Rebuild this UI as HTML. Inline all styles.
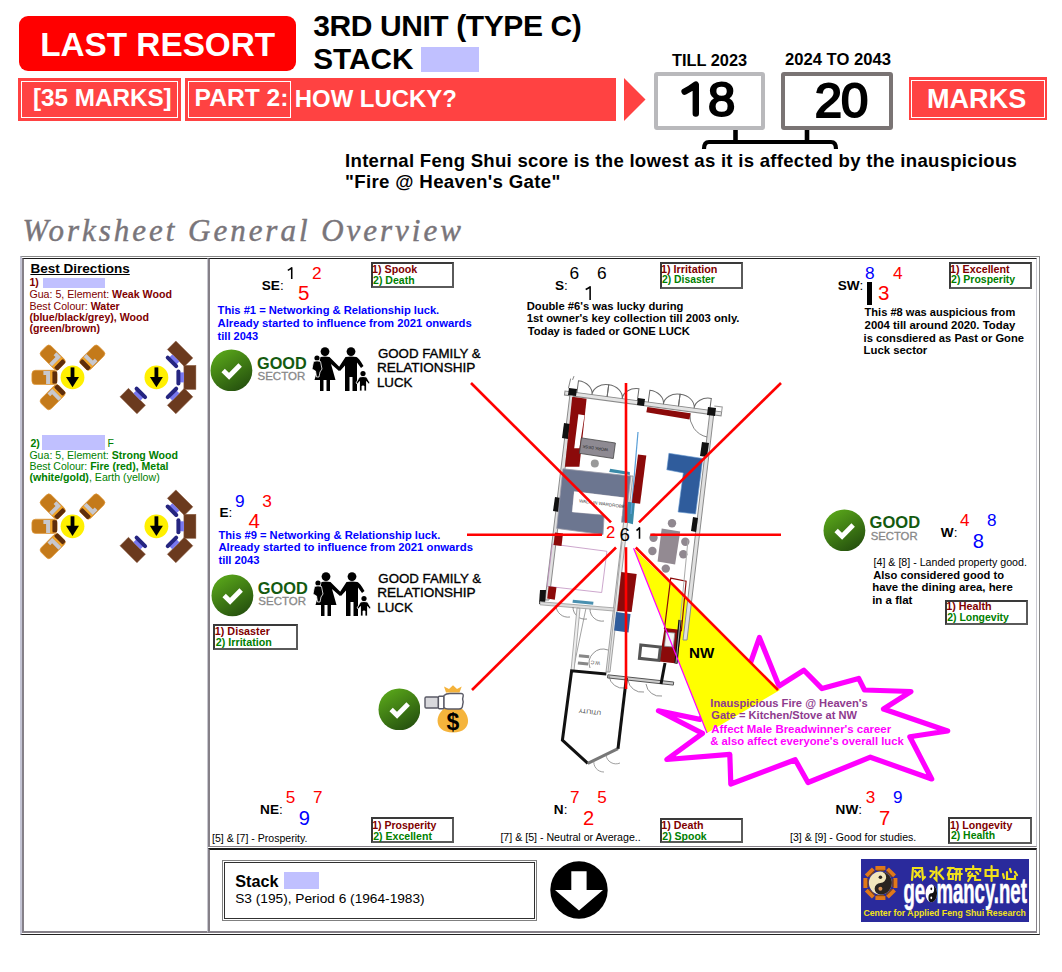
<!DOCTYPE html><html><head><meta charset="utf-8"><style>html,body{margin:0;padding:0;background:#fff;width:1062px;height:972px;overflow:hidden;position:relative;}.a{position:absolute;}.t{position:absolute;white-space:nowrap;line-height:1;font-family:"Liberation Sans",sans-serif;}svg text{font-family:"Liberation Sans",sans-serif;}</style></head><body><div class="a" style="left:19px;top:16px;width:277px;height:55px;background:#FF0000;border-radius:9px;"></div>
<div class="t" style="left:40.20px;top:28.00px;font-size:33.31px;color:#fff;font-weight:bold;">LAST RESORT</div>
<div class="t" style="left:313.20px;top:11.20px;font-size:30.00px;color:#000;font-weight:bold;letter-spacing:-0.406px;">3RD UNIT (TYPE C)</div>
<div class="t" style="left:313.20px;top:44.12px;font-size:29.74px;color:#000;font-weight:bold;">STACK</div>
<div class="a" style="left:421px;top:47px;width:58px;height:25px;background:#C0C0FF;"></div>
<div class="a" style="left:18px;top:78px;width:163px;height:43px;background:#FF4242;"></div>
<div class="a" style="left:21px;top:81px;width:157px;height:37px;border:1px solid #fff;box-sizing:border-box;"></div>
<div class="t" style="left:32.90px;top:86.27px;font-size:24.25px;color:#fff;font-weight:bold;">[35 MARKS]</div>
<div class="a" style="left:185px;top:78px;width:431px;height:43px;background:#FF4242;"></div>
<div class="a" style="left:188px;top:81px;width:103px;height:37px;border:1px solid #fff;box-sizing:border-box;"></div>
<div class="t" style="left:194.60px;top:86.37px;font-size:24.60px;color:#fff;font-weight:bold;">PART 2:</div>
<div class="t" style="left:294.80px;top:86.96px;font-size:23.91px;color:#fff;font-weight:bold;">HOW LUCKY?</div>
<svg class="a" style="left:0;top:0" width="1062" height="200"><polygon points="624,78 645.5,99.5 624,121" fill="#FF4242"/><path d="M704,149 q0,-7 5,-7 L831,142 q5,0 5,7" fill="none" stroke="#000" stroke-width="4.2"/><line x1="735.5" y1="130" x2="735.5" y2="142" stroke="#000" stroke-width="4.6"/><line x1="807" y1="130" x2="807" y2="142" stroke="#000" stroke-width="4.6"/></svg>
<div class="a" style="left:653.5px;top:71.5px;width:111.5px;height:58.5px;border:4px solid #B9B9BC;box-sizing:border-box;border-radius:3px;background:#fff;"></div>
<div class="a" style="left:781px;top:71.5px;width:111.5px;height:58.5px;border:4px solid #7A7474;box-sizing:border-box;border-radius:3px;background:#fff;"></div>
<svg class="a" style="left:0;top:0" width="760" height="140"><path d="M684.6,91.6 Q690.5,88.6 695.8,84.6 L695.8,113.6" fill="none" stroke="#000" stroke-width="6.4" stroke-linecap="round" stroke-linejoin="round"/></svg>
<div class="t" style="left:708.00px;top:75.31px;font-size:49.00px;color:#000;font-weight:normal;-webkit-text-stroke:2.1px #000;">8</div>
<div class="t" style="left:814.80px;top:76.11px;font-size:49.00px;color:#000;font-weight:normal;letter-spacing:-1.000px;-webkit-text-stroke:2.1px #000;">20</div>
<div class="t" style="left:672.00px;top:52.15px;font-size:16.36px;color:#000;font-weight:bold;">TILL 2023</div>
<div class="t" style="left:785.00px;top:51.94px;font-size:16.61px;color:#000;font-weight:bold;">2024 TO 2043</div>
<div class="a" style="left:909px;top:77px;width:138px;height:43px;background:#FF4242;"></div>
<div class="a" style="left:911px;top:79.5px;width:134px;height:38.0px;border:1px solid #fff;box-sizing:border-box;"></div>
<div class="t" style="left:927.00px;top:85.08px;font-size:27.07px;color:#fff;font-weight:bold;">MARKS</div>
<div class="t" style="left:345.10px;top:151.68px;font-size:18.57px;color:#000;font-weight:bold;letter-spacing:0.279px;">Internal Feng Shui score is the lowest as it is affected by the inauspicious</div>
<div class="t" style="left:345.10px;top:173.46px;font-size:18.71px;color:#000;font-weight:bold;letter-spacing:0.314px;">"Fire @ Heaven's Gate"</div>
<div class="t" style="left:22.50px;top:214.95px;font-size:31.00px;color:#79757a;font-weight:normal;letter-spacing:2.980px;font-family:'Liberation Serif',serif;font-style:italic;-webkit-text-stroke:0.45px #79757a;">Worksheet General Overview</div>
<div class="a" style="left:20px;top:256px;width:1020px;height:679px;border-top:1px solid #8a8a8a;border-left:2px solid #c4c4d4;border-right:1px solid #8a8a8a;border-bottom:1px solid #222;box-sizing:border-box;"></div>
<div class="a" style="left:22px;top:258px;width:186px;height:675px;border-top:1px solid #1a1a1a;border-left:2px solid #858088;border-right:1px solid #c8c8d0;border-bottom:2px solid #858088;box-sizing:border-box;"></div>
<div class="a" style="left:208px;top:258px;width:829px;height:589px;border-top:1px solid #1a1a1a;border-left:2px solid #858088;border-right:1px solid #c8c8d0;border-bottom:1px solid #858088;box-sizing:border-box;"></div>
<div class="a" style="left:208px;top:848px;width:829px;height:85px;border-top:2px solid #1a1a1a;border-left:2px solid #858088;border-right:1px solid #858088;border-bottom:2px solid #858088;box-sizing:border-box;"></div>
<div class="t" style="left:30.40px;top:262.23px;font-size:13.55px;color:#000;font-weight:bold;text-decoration:underline;">Best Directions</div>
<div class="t" style="left:29.40px;top:277.11px;font-size:10.50px;color:#800000;font-weight:bold;">1)</div>
<div class="a" style="left:42.8px;top:277.8px;width:62.2px;height:9.899999999999977px;background:#C0C0FF;"></div>
<div class="t" style="left:29.40px;top:288.70px;font-size:10.63px;color:#800000;font-weight:bold;"><span style="font-weight:normal">Gua: 5, Element: </span>Weak Wood</div>
<div class="t" style="left:29.40px;top:300.72px;font-size:10.60px;color:#800000;font-weight:bold;"><span style="font-weight:normal">Best Colour: </span>Water</div>
<div class="t" style="left:29.40px;top:312.00px;font-size:10.63px;color:#800000;font-weight:bold;">(blue/black/grey), Wood</div>
<div class="t" style="left:29.40px;top:323.32px;font-size:10.60px;color:#800000;font-weight:bold;">(green/brown)</div>
<div class="t" style="left:30.40px;top:438.01px;font-size:10.50px;color:#008000;font-weight:bold;">2)</div>
<div class="a" style="left:42.4px;top:435px;width:63.1px;height:14.5px;background:#C0C0FF;"></div>
<div class="t" style="left:107.60px;top:438.01px;font-size:10.50px;color:#008000;font-weight:normal;">F</div>
<div class="t" style="left:29.40px;top:449.84px;font-size:10.58px;color:#008000;font-weight:bold;"><span style="font-weight:normal">Gua: 5, Element: </span>Strong Wood</div>
<div class="t" style="left:29.40px;top:461.08px;font-size:10.53px;color:#008000;font-weight:bold;"><span style="font-weight:normal">Best Colour: </span>Fire (red), Metal</div>
<div class="t" style="left:29.40px;top:472.41px;font-size:10.62px;color:#008000;font-weight:bold;">(white/gold)<span style="font-weight:normal">, Earth (yellow)</span></div>
<svg class="a" style="left:0;top:0" width="208" height="600"><g transform="translate(44.5 377.4) rotate(360)"><rect x="-12.6" y="-7.1" width="25.2" height="14.2" rx="3.6" fill="#C47A1A" stroke="#E09838" stroke-width="0.7"/><rect x="5.6" y="-6.6" width="2.4" height="13.2" fill="#F2A62A"/><polygon points="-1.1,-6.3 5.6,-6.3 5.6,6.6 1.6,6.6 1.6,-2.4 -1.1,-2.4" fill="#C8C8CE"/><rect x="8" y="-6" width="4.6" height="12" rx="1.2" fill="#5E2E0C"/></g><g transform="translate(52.7 357.6) rotate(45)"><rect x="-12.6" y="-7.1" width="25.2" height="14.2" rx="3.6" fill="#C47A1A" stroke="#E09838" stroke-width="0.7"/><rect x="5.6" y="-6.6" width="2.4" height="13.2" fill="#F2A62A"/><polygon points="-1.1,-6.3 5.6,-6.3 5.6,6.6 1.6,6.6 1.6,-2.4 -1.1,-2.4" fill="#C8C8CE"/><rect x="8" y="-6" width="4.6" height="12" rx="1.2" fill="#5E2E0C"/></g><g transform="translate(92.3 357.6) rotate(135)"><rect x="-12.6" y="-7.1" width="25.2" height="14.2" rx="3.6" fill="#C47A1A" stroke="#E09838" stroke-width="0.7"/><rect x="5.6" y="-6.6" width="2.4" height="13.2" fill="#F2A62A"/><polygon points="-1.1,-6.3 5.6,-6.3 5.6,6.6 1.6,6.6 1.6,-2.4 -1.1,-2.4" fill="#C8C8CE"/><rect x="8" y="-6" width="4.6" height="12" rx="1.2" fill="#5E2E0C"/></g><g transform="translate(52.7 397.2) rotate(315)"><rect x="-12.6" y="-7.1" width="25.2" height="14.2" rx="3.6" fill="#C47A1A" stroke="#E09838" stroke-width="0.7"/><rect x="5.6" y="-6.6" width="2.4" height="13.2" fill="#F2A62A"/><polygon points="-1.1,-6.3 5.6,-6.3 5.6,6.6 1.6,6.6 1.6,-2.4 -1.1,-2.4" fill="#C8C8CE"/><rect x="8" y="-6" width="4.6" height="12" rx="1.2" fill="#5E2E0C"/></g><circle cx="72.5" cy="377.4" r="11.9" fill="#FFF000"/><rect x="70.6" y="367.4" width="3.8" height="10" fill="#000"/><polygon points="66.0,376.9 79.0,376.9 72.5,387.2" fill="#000"/><g transform="translate(189.9 377.4) rotate(180)"><rect x="-6" y="-12" width="12" height="24" fill="#6B3A1E" stroke="#8a5a3e" stroke-width="0.5"/><rect x="6" y="-5" width="4.5" height="10" fill="#7878F0"/><rect x="9.5" y="-8" width="4" height="16" rx="2" fill="#252580"/></g><g transform="translate(180.09 353.71) rotate(135)"><rect x="-6" y="-12" width="12" height="24" fill="#6B3A1E" stroke="#8a5a3e" stroke-width="0.5"/><rect x="6" y="-5" width="4.5" height="10" fill="#7878F0"/><rect x="9.5" y="-8" width="4" height="16" rx="2" fill="#252580"/></g><g transform="translate(180.09 401.09) rotate(225)"><rect x="-6" y="-12" width="12" height="24" fill="#6B3A1E" stroke="#8a5a3e" stroke-width="0.5"/><rect x="6" y="-5" width="4.5" height="10" fill="#7878F0"/><rect x="9.5" y="-8" width="4" height="16" rx="2" fill="#252580"/></g><g transform="translate(132.71 401.09) rotate(315)"><rect x="-6" y="-12" width="12" height="24" fill="#6B3A1E" stroke="#8a5a3e" stroke-width="0.5"/><rect x="6" y="-5" width="4.5" height="10" fill="#7878F0"/><rect x="9.5" y="-8" width="4" height="16" rx="2" fill="#252580"/></g><circle cx="156.4" cy="377.4" r="11.9" fill="#FFF000"/><rect x="154.5" y="367.4" width="3.8" height="10" fill="#000"/><polygon points="149.9,376.9 162.9,376.9 156.4,387.2" fill="#000"/><g transform="translate(44.5 526.3) rotate(360)"><rect x="-12.6" y="-7.1" width="25.2" height="14.2" rx="3.6" fill="#C47A1A" stroke="#E09838" stroke-width="0.7"/><rect x="5.6" y="-6.6" width="2.4" height="13.2" fill="#F2A62A"/><polygon points="-1.1,-6.3 5.6,-6.3 5.6,6.6 1.6,6.6 1.6,-2.4 -1.1,-2.4" fill="#C8C8CE"/><rect x="8" y="-6" width="4.6" height="12" rx="1.2" fill="#5E2E0C"/></g><g transform="translate(52.7 506.5) rotate(45)"><rect x="-12.6" y="-7.1" width="25.2" height="14.2" rx="3.6" fill="#C47A1A" stroke="#E09838" stroke-width="0.7"/><rect x="5.6" y="-6.6" width="2.4" height="13.2" fill="#F2A62A"/><polygon points="-1.1,-6.3 5.6,-6.3 5.6,6.6 1.6,6.6 1.6,-2.4 -1.1,-2.4" fill="#C8C8CE"/><rect x="8" y="-6" width="4.6" height="12" rx="1.2" fill="#5E2E0C"/></g><g transform="translate(92.3 506.5) rotate(135)"><rect x="-12.6" y="-7.1" width="25.2" height="14.2" rx="3.6" fill="#C47A1A" stroke="#E09838" stroke-width="0.7"/><rect x="5.6" y="-6.6" width="2.4" height="13.2" fill="#F2A62A"/><polygon points="-1.1,-6.3 5.6,-6.3 5.6,6.6 1.6,6.6 1.6,-2.4 -1.1,-2.4" fill="#C8C8CE"/><rect x="8" y="-6" width="4.6" height="12" rx="1.2" fill="#5E2E0C"/></g><g transform="translate(52.7 546.1) rotate(315)"><rect x="-12.6" y="-7.1" width="25.2" height="14.2" rx="3.6" fill="#C47A1A" stroke="#E09838" stroke-width="0.7"/><rect x="5.6" y="-6.6" width="2.4" height="13.2" fill="#F2A62A"/><polygon points="-1.1,-6.3 5.6,-6.3 5.6,6.6 1.6,6.6 1.6,-2.4 -1.1,-2.4" fill="#C8C8CE"/><rect x="8" y="-6" width="4.6" height="12" rx="1.2" fill="#5E2E0C"/></g><circle cx="72.5" cy="526.3" r="11.9" fill="#FFF000"/><rect x="70.6" y="516.3" width="3.8" height="10" fill="#000"/><polygon points="66.0,525.8 79.0,525.8 72.5,536.0999999999999" fill="#000"/><g transform="translate(189.9 526.3) rotate(180)"><rect x="-6" y="-12" width="12" height="24" fill="#6B3A1E" stroke="#8a5a3e" stroke-width="0.5"/><rect x="6" y="-5" width="4.5" height="10" fill="#7878F0"/><rect x="9.5" y="-8" width="4" height="16" rx="2" fill="#252580"/></g><g transform="translate(180.09 502.61) rotate(135)"><rect x="-6" y="-12" width="12" height="24" fill="#6B3A1E" stroke="#8a5a3e" stroke-width="0.5"/><rect x="6" y="-5" width="4.5" height="10" fill="#7878F0"/><rect x="9.5" y="-8" width="4" height="16" rx="2" fill="#252580"/></g><g transform="translate(180.09 549.99) rotate(225)"><rect x="-6" y="-12" width="12" height="24" fill="#6B3A1E" stroke="#8a5a3e" stroke-width="0.5"/><rect x="6" y="-5" width="4.5" height="10" fill="#7878F0"/><rect x="9.5" y="-8" width="4" height="16" rx="2" fill="#252580"/></g><g transform="translate(132.71 549.99) rotate(315)"><rect x="-6" y="-12" width="12" height="24" fill="#6B3A1E" stroke="#8a5a3e" stroke-width="0.5"/><rect x="6" y="-5" width="4.5" height="10" fill="#7878F0"/><rect x="9.5" y="-8" width="4" height="16" rx="2" fill="#252580"/></g><circle cx="156.4" cy="526.3" r="11.9" fill="#FFF000"/><rect x="154.5" y="516.3" width="3.8" height="10" fill="#000"/><polygon points="149.9,525.8 162.9,525.8 156.4,536.0999999999999" fill="#000"/></svg>
<div class="t" style="left:261.80px;top:278.58px;font-size:13.60px;color:#000;font-weight:bold;">SE<span style="font-weight:normal">:</span></div>
<svg class="a" style="left:0;top:0;overflow:visible" width="1" height="1"><path d="M287.80,270.40 Q290.21,269.20 291.73,267.70 L291.73,279.00" fill="none" stroke="#000" stroke-width="1.55" stroke-linejoin="round"/></svg>
<div class="t" style="left:312.00px;top:264.86px;font-size:17.29px;color:#FF0000;font-weight:normal;">2</div>
<div class="t" style="left:298.10px;top:283.48px;font-size:20.57px;color:#FF0000;font-weight:normal;">5</div>
<div class="a" style="left:370.6px;top:261.7px;width:83.39999999999998px;height:26.80000000000001px;border:2px solid #5a5a5a;border-top-color:#3a3a3a;border-left-color:#3a3a3a;box-sizing:border-box;background:#fff;"></div>
<div class="t" style="left:372.10px;top:264.43px;font-size:10.71px;color:#800000;font-weight:bold;">1) Spook</div>
<div class="t" style="left:373.10px;top:274.99px;font-size:10.52px;color:#008000;font-weight:bold;">2) Death</div>
<div class="t" style="left:217.60px;top:305.05px;font-size:11.16px;color:#0000FF;font-weight:bold;">This #1 = Networking &amp; Relationship luck.</div>
<div class="t" style="left:217.60px;top:317.66px;font-size:11.27px;color:#0000FF;font-weight:bold;">Already started to influence from 2021 onwards</div>
<div class="t" style="left:217.60px;top:330.67px;font-size:11.02px;color:#0000FF;font-weight:bold;">till 2043</div>
<svg class="a" style="left:209.9px;top:348.6px" width="42.8" height="42.8" viewBox="0 0 44 44"><defs><linearGradient id="g1" x1="0.2" y1="0" x2="0.8" y2="1"><stop offset="0" stop-color="#5aa81a"/><stop offset="1" stop-color="#234d0e"/></linearGradient></defs><circle cx="22" cy="22" r="21.5" fill="url(#g1)"/><path d="M13.5,22.2 L19.6,28 L31,16.4" fill="none" stroke="#fff" stroke-width="5" stroke-linecap="butt" stroke-linejoin="miter"/></svg>
<div class="t" style="left:257.00px;top:354.52px;font-size:16.27px;color:#145A10;font-weight:bold;">GOOD</div>
<div class="t" style="left:257.50px;top:370.76px;font-size:11.50px;color:#888;font-weight:normal;-webkit-text-stroke:0.3px #888;">SECTOR</div>
<svg class="a" style="left:311px;top:347px" width="60" height="45" viewBox="0 0 60 45"><g fill="#000"><circle cx="14" cy="4.6" r="4.4"/><circle cx="40" cy="4.6" r="4.4"/><path d="M9.5,10 Q14,8.8 18.5,10 L30,21.5 L28,24 L20,17 L24.5,33 L19,33 L19,44 L15.5,44 L15.5,33 L12.5,33 L12.5,44 L9,44 L9,33 L3.5,33 L8,17 Z"/><path d="M34.5,10 Q40,8.8 45.5,10 Q48,11 52.5,19 L50,21 L46,15.5 L46,44 L41.5,44 L41.5,30 L38.5,30 L38.5,44 L34,44 L34,18.5 L29,24 L27,21.5 Z"/><circle cx="6" cy="11" r="2.6"/><path d="M2.5,14.5 Q6,13.2 9.5,14.5 L11,22 L9,25 L8,30 L5.5,30 L4.5,24 L1,22 Z" stroke="#fff" stroke-width="0.8"/><circle cx="52" cy="26.5" r="2.6"/><path d="M48.5,30 Q52,29 55.5,30 L59,36 L57.5,37 L55.5,34.5 L55.5,44 L53,44 L53,39 L51,39 L51,44 L48.5,44 L48.5,34.5 L46.5,37 L45,36 Z" stroke="#fff" stroke-width="0.8"/></g></svg>
<div class="t" style="left:377.90px;top:346.55px;font-size:13.29px;color:#000;font-weight:normal;-webkit-text-stroke:0.35px #000;">GOOD FAMILY &amp;</div>
<div class="t" style="left:376.90px;top:361.02px;font-size:13.56px;color:#000;font-weight:normal;-webkit-text-stroke:0.35px #000;">RELATIONSHIP</div>
<div class="t" style="left:376.90px;top:376.22px;font-size:13.32px;color:#000;font-weight:normal;-webkit-text-stroke:0.35px #000;">LUCK</div>
<div class="t" style="left:555.00px;top:278.88px;font-size:13.60px;color:#000;font-weight:bold;">S<span style="font-weight:normal">:</span></div>
<div class="t" style="left:569.60px;top:264.86px;font-size:17.29px;color:#000;font-weight:normal;">6</div>
<div class="t" style="left:597.00px;top:264.86px;font-size:17.29px;color:#000;font-weight:normal;">6</div>
<svg class="a" style="left:0;top:0;overflow:visible" width="1" height="1"><path d="M585.70,289.50 Q588.36,288.30 590.12,286.80 L590.12,300.10" fill="none" stroke="#000" stroke-width="1.55" stroke-linejoin="round"/></svg>
<div class="a" style="left:659.5px;top:261.5px;width:83.5px;height:27.100000000000023px;border:2px solid #5a5a5a;border-top-color:#3a3a3a;border-left-color:#3a3a3a;box-sizing:border-box;background:#fff;"></div>
<div class="t" style="left:661.00px;top:264.14px;font-size:10.82px;color:#800000;font-weight:bold;">1) Irritation</div>
<div class="t" style="left:662.00px;top:274.94px;font-size:10.35px;color:#008000;font-weight:bold;">2) Disaster</div>
<div class="t" style="left:526.70px;top:300.80px;font-size:11.22px;color:#000;font-weight:bold;">Double #6's was lucky during</div>
<div class="t" style="left:526.70px;top:313.12px;font-size:11.31px;color:#000;font-weight:bold;">1st owner's key collection till 2003 only.</div>
<div class="t" style="left:527.70px;top:326.21px;font-size:11.21px;color:#000;font-weight:bold;">Today is faded or GONE LUCK</div>
<div class="t" style="left:837.70px;top:278.68px;font-size:13.60px;color:#000;font-weight:bold;">SW<span style="font-weight:normal">:</span></div>
<div class="t" style="left:864.90px;top:264.86px;font-size:17.29px;color:#0000FF;font-weight:normal;">8</div>
<div class="t" style="left:893.00px;top:264.86px;font-size:17.29px;color:#FF0000;font-weight:normal;">4</div>
<div class="t" style="left:878.10px;top:283.48px;font-size:20.57px;color:#FF0000;font-weight:normal;">3</div>
<div class="a" style="left:866.6px;top:282px;width:5.399999999999977px;height:22.5px;background:#000;"></div>
<div class="a" style="left:948.6px;top:261.6px;width:83.10000000000002px;height:27.0px;border:2px solid #5a5a5a;border-top-color:#3a3a3a;border-left-color:#3a3a3a;box-sizing:border-box;background:#fff;"></div>
<div class="t" style="left:950.10px;top:264.31px;font-size:10.73px;color:#800000;font-weight:bold;">1) Excellent</div>
<div class="t" style="left:951.10px;top:274.92px;font-size:10.49px;color:#008000;font-weight:bold;">2) Prosperity</div>
<div class="t" style="left:864.60px;top:307.33px;font-size:11.07px;color:#000;font-weight:bold;">This #8 was auspicious from</div>
<div class="t" style="left:864.60px;top:319.57px;font-size:11.37px;color:#000;font-weight:bold;">2004 till around 2020. Today</div>
<div class="t" style="left:863.60px;top:332.52px;font-size:11.20px;color:#000;font-weight:bold;">is consdiered as Past or Gone</div>
<div class="t" style="left:863.60px;top:345.29px;font-size:11.35px;color:#000;font-weight:bold;">Luck sector</div>
<div class="t" style="left:219.50px;top:505.98px;font-size:13.60px;color:#000;font-weight:bold;">E<span style="font-weight:normal">:</span></div>
<div class="t" style="left:234.90px;top:492.86px;font-size:17.29px;color:#0000FF;font-weight:normal;">9</div>
<div class="t" style="left:262.20px;top:492.86px;font-size:17.29px;color:#FF0000;font-weight:normal;">3</div>
<div class="t" style="left:248.60px;top:510.98px;font-size:20.57px;color:#FF0000;font-weight:normal;">4</div>
<div class="t" style="left:218.40px;top:529.53px;font-size:11.18px;color:#0000FF;font-weight:bold;">This #9 = Networking &amp; Relationship luck.</div>
<div class="t" style="left:218.40px;top:542.44px;font-size:11.29px;color:#0000FF;font-weight:bold;">Already started to influence from 2021 onwards</div>
<div class="t" style="left:218.40px;top:554.88px;font-size:11.24px;color:#0000FF;font-weight:bold;">till 2043</div>
<svg class="a" style="left:210.9px;top:573.8px" width="42.8" height="42.8" viewBox="0 0 44 44"><defs><linearGradient id="g2" x1="0.2" y1="0" x2="0.8" y2="1"><stop offset="0" stop-color="#5aa81a"/><stop offset="1" stop-color="#234d0e"/></linearGradient></defs><circle cx="22" cy="22" r="21.5" fill="url(#g2)"/><path d="M13.5,22.2 L19.6,28 L31,16.4" fill="none" stroke="#fff" stroke-width="5" stroke-linecap="butt" stroke-linejoin="miter"/></svg>
<div class="t" style="left:257.80px;top:580.11px;font-size:16.40px;color:#145A10;font-weight:bold;">GOOD</div>
<div class="t" style="left:258.30px;top:596.46px;font-size:11.50px;color:#888;font-weight:normal;-webkit-text-stroke:0.3px #888;">SECTOR</div>
<svg class="a" style="left:311.7px;top:572px" width="60" height="45" viewBox="0 0 60 45"><g fill="#000"><circle cx="14" cy="4.6" r="4.4"/><circle cx="40" cy="4.6" r="4.4"/><path d="M9.5,10 Q14,8.8 18.5,10 L30,21.5 L28,24 L20,17 L24.5,33 L19,33 L19,44 L15.5,44 L15.5,33 L12.5,33 L12.5,44 L9,44 L9,33 L3.5,33 L8,17 Z"/><path d="M34.5,10 Q40,8.8 45.5,10 Q48,11 52.5,19 L50,21 L46,15.5 L46,44 L41.5,44 L41.5,30 L38.5,30 L38.5,44 L34,44 L34,18.5 L29,24 L27,21.5 Z"/><circle cx="6" cy="11" r="2.6"/><path d="M2.5,14.5 Q6,13.2 9.5,14.5 L11,22 L9,25 L8,30 L5.5,30 L4.5,24 L1,22 Z" stroke="#fff" stroke-width="0.8"/><circle cx="52" cy="26.5" r="2.6"/><path d="M48.5,30 Q52,29 55.5,30 L59,36 L57.5,37 L55.5,34.5 L55.5,44 L53,44 L53,39 L51,39 L51,44 L48.5,44 L48.5,34.5 L46.5,37 L45,36 Z" stroke="#fff" stroke-width="0.8"/></g></svg>
<div class="t" style="left:378.30px;top:571.75px;font-size:13.29px;color:#000;font-weight:normal;-webkit-text-stroke:0.35px #000;">GOOD FAMILY &amp;</div>
<div class="t" style="left:377.30px;top:586.32px;font-size:13.56px;color:#000;font-weight:normal;-webkit-text-stroke:0.35px #000;">RELATIONSHIP</div>
<div class="t" style="left:377.30px;top:601.32px;font-size:13.32px;color:#000;font-weight:normal;-webkit-text-stroke:0.35px #000;">LUCK</div>
<div class="a" style="left:213.3px;top:623.7px;width:84.39999999999998px;height:26.699999999999932px;border:2px solid #5a5a5a;border-top-color:#3a3a3a;border-left-color:#3a3a3a;box-sizing:border-box;background:#fff;"></div>
<div class="t" style="left:214.80px;top:625.87px;font-size:10.78px;color:#800000;font-weight:bold;">1) Disaster</div>
<div class="t" style="left:215.80px;top:636.72px;font-size:10.72px;color:#008000;font-weight:bold;">2) Irritation</div>
<svg class="a" style="left:823.1px;top:508.7px" width="42.8" height="42.8" viewBox="0 0 44 44"><defs><linearGradient id="g3" x1="0.2" y1="0" x2="0.8" y2="1"><stop offset="0" stop-color="#5aa81a"/><stop offset="1" stop-color="#234d0e"/></linearGradient></defs><circle cx="22" cy="22" r="21.5" fill="url(#g3)"/><path d="M13.5,22.2 L19.6,28 L31,16.4" fill="none" stroke="#fff" stroke-width="5" stroke-linecap="butt" stroke-linejoin="miter"/></svg>
<div class="t" style="left:869.60px;top:514.50px;font-size:16.54px;color:#145A10;font-weight:bold;">GOOD</div>
<div class="t" style="left:870.70px;top:531.03px;font-size:11.30px;color:#888;font-weight:normal;-webkit-text-stroke:0.3px #888;">SECTOR</div>
<div class="t" style="left:940.80px;top:525.88px;font-size:13.60px;color:#000;font-weight:bold;">W<span style="font-weight:normal">:</span></div>
<div class="t" style="left:960.00px;top:511.89px;font-size:17.14px;color:#FF0000;font-weight:normal;">4</div>
<div class="t" style="left:987.00px;top:511.89px;font-size:17.14px;color:#0000FF;font-weight:normal;">8</div>
<div class="t" style="left:972.80px;top:530.55px;font-size:20.14px;color:#0000FF;font-weight:normal;">8</div>
<div class="t" style="left:873.50px;top:556.57px;font-size:10.67px;color:#000;font-weight:normal;">[4] &amp; [8] - Landed property good.</div>
<div class="t" style="left:873.20px;top:569.55px;font-size:11.16px;color:#000;font-weight:bold;">Also considered good to</div>
<div class="t" style="left:872.20px;top:582.35px;font-size:11.40px;color:#000;font-weight:bold;">have the dining area, here</div>
<div class="t" style="left:872.20px;top:594.68px;font-size:11.48px;color:#000;font-weight:bold;">in a flat</div>
<div class="a" style="left:944.7px;top:599.6px;width:83.0px;height:25.600000000000023px;border:2px solid #5a5a5a;border-top-color:#3a3a3a;border-left-color:#3a3a3a;box-sizing:border-box;background:#fff;"></div>
<div class="t" style="left:946.20px;top:601.37px;font-size:10.78px;color:#800000;font-weight:bold;">1) Health</div>
<div class="t" style="left:947.20px;top:612.83px;font-size:10.48px;color:#008000;font-weight:bold;">2) Longevity</div>
<svg class="a" style="left:377.7px;top:687.6px" width="42.8" height="42.8" viewBox="0 0 44 44"><defs><linearGradient id="g4" x1="0.2" y1="0" x2="0.8" y2="1"><stop offset="0" stop-color="#5aa81a"/><stop offset="1" stop-color="#234d0e"/></linearGradient></defs><circle cx="22" cy="22" r="21.5" fill="url(#g4)"/><path d="M13.5,22.2 L19.6,28 L31,16.4" fill="none" stroke="#fff" stroke-width="5" stroke-linecap="butt" stroke-linejoin="miter"/></svg>
<div class="t" style="left:260.10px;top:803.28px;font-size:13.60px;color:#000;font-weight:bold;">NE<span style="font-weight:normal">:</span></div>
<div class="t" style="left:285.80px;top:788.89px;font-size:17.14px;color:#FF0000;font-weight:normal;">5</div>
<div class="t" style="left:312.90px;top:788.89px;font-size:17.14px;color:#FF0000;font-weight:normal;">7</div>
<div class="t" style="left:298.80px;top:807.55px;font-size:20.14px;color:#0000FF;font-weight:normal;">9</div>
<div class="t" style="left:212.00px;top:832.56px;font-size:10.56px;color:#000;font-weight:normal;">[5] &amp; [7] - Prosperity.</div>
<div class="a" style="left:370.7px;top:817.3px;width:83.30000000000001px;height:25.90000000000009px;border:2px solid #5a5a5a;border-top-color:#3a3a3a;border-left-color:#3a3a3a;box-sizing:border-box;background:#fff;"></div>
<div class="t" style="left:372.20px;top:820.18px;font-size:10.53px;color:#800000;font-weight:bold;">1) Prosperity</div>
<div class="t" style="left:373.20px;top:830.55px;font-size:10.57px;color:#008000;font-weight:bold;">2) Excellent</div>
<div class="t" style="left:553.80px;top:802.88px;font-size:13.60px;color:#000;font-weight:bold;">N<span style="font-weight:normal">:</span></div>
<div class="t" style="left:569.90px;top:788.89px;font-size:17.14px;color:#FF0000;font-weight:normal;">7</div>
<div class="t" style="left:597.20px;top:788.89px;font-size:17.14px;color:#FF0000;font-weight:normal;">5</div>
<div class="t" style="left:583.00px;top:807.55px;font-size:20.14px;color:#FF0000;font-weight:normal;">2</div>
<div class="t" style="left:500.40px;top:832.49px;font-size:10.64px;color:#000;font-weight:normal;">[7] &amp; [5] - Neutral or Average..</div>
<div class="a" style="left:659.8px;top:817.6px;width:83.20000000000005px;height:25.399999999999977px;border:2px solid #5a5a5a;border-top-color:#3a3a3a;border-left-color:#3a3a3a;box-sizing:border-box;background:#fff;"></div>
<div class="t" style="left:661.30px;top:820.34px;font-size:10.70px;color:#800000;font-weight:bold;">1) Death</div>
<div class="t" style="left:662.30px;top:830.91px;font-size:10.50px;color:#008000;font-weight:bold;">2) Spook</div>
<div class="t" style="left:835.60px;top:802.88px;font-size:13.60px;color:#000;font-weight:bold;">NW<span style="font-weight:normal">:</span></div>
<div class="t" style="left:865.80px;top:788.89px;font-size:17.14px;color:#FF0000;font-weight:normal;">3</div>
<div class="t" style="left:892.90px;top:788.89px;font-size:17.14px;color:#0000FF;font-weight:normal;">9</div>
<div class="t" style="left:879.00px;top:807.55px;font-size:20.14px;color:#FF0000;font-weight:normal;">7</div>
<div class="t" style="left:790.00px;top:832.05px;font-size:10.57px;color:#000;font-weight:normal;">[3] &amp; [9] - Good for studies.</div>
<div class="a" style="left:948.4px;top:817.2px;width:83.30000000000007px;height:26.399999999999977px;border:2px solid #5a5a5a;border-top-color:#3a3a3a;border-left-color:#3a3a3a;box-sizing:border-box;background:#fff;"></div>
<div class="t" style="left:949.90px;top:820.02px;font-size:10.60px;color:#800000;font-weight:bold;">1) Longevity</div>
<div class="t" style="left:950.90px;top:830.54px;font-size:10.46px;color:#008000;font-weight:bold;">2) Health</div>
<div class="a" style="left:222px;top:859.7px;width:315px;height:61.299999999999955px;border:1px solid #808080;box-sizing:border-box;"></div>
<div class="a" style="left:224px;top:861.7px;width:311px;height:57.299999999999955px;border:1px solid #303030;box-sizing:border-box;"></div>
<div class="t" style="left:235.20px;top:872.93px;font-size:16.26px;color:#000;font-weight:bold;">Stack</div>
<div class="a" style="left:283.7px;top:872.4px;width:35.30000000000001px;height:16.200000000000045px;background:#C0C0FF;"></div>
<div class="t" style="left:235.20px;top:892.40px;font-size:13.70px;color:#000;font-weight:normal;">S3 (195), Period 6 (1964-1983)</div>
<svg class="a" style="left:549px;top:860px" width="60" height="60" viewBox="0 0 60 60"><circle cx="30" cy="30" r="28.7" fill="#000"/><polygon points="22.3,11.2 37.6,11.2 37.6,29.9 54,29.9 30,50.5 6,29.9 22.3,29.9" fill="#fff"/></svg>
<svg class="a" style="left:0;top:0" width="1062" height="972"><polygon points="759.4,637.5 779.0,686.0 803.9,670.2 822.0,688.6 858.7,678.4 864.5,690.0 911.0,691.5 883.5,709.0 947.7,731.0 909.8,736.8 931.7,779.0 870.4,757.2 808.0,782.5 795.2,759.7 730.8,784.0 729.8,754.4 666.8,759.5 702.5,733.4 658.5,710.8 699.8,719.4 750.6,662.6" fill="none" stroke="#FF00FF" stroke-width="5.2" stroke-linejoin="round"/><polygon points="633.6,548.2 780.0,690.0 707.0,733.0" fill="#FFFF00" stroke="none" stroke-width="0" /><g transform="translate(565 391) rotate(7.6)"><rect x="0" y="0" width="158" height="4" fill="#e4e4e4" stroke="#8a8a8a" stroke-width="1"/><path d="M12,0 L12,-12 A15,12 0 0 1 27.25,0 A15,12 0 0 1 42.5,-12 L42.5,0" fill="none" stroke="#6a6a6a" stroke-width="1"/><path d="M42.5,0 L42.5,-12 A15,12 0 0 1 57.75,0 A15,12 0 0 1 73,-12 L73,0" fill="none" stroke="#6a6a6a" stroke-width="1"/><path d="M84,0 L84,-12 A15,12 0 0 1 99.25,0 A15,12 0 0 1 114.5,-12 L114.5,0" fill="none" stroke="#6a6a6a" stroke-width="1"/><path d="M114.5,0 L114.5,-12 A15,12 0 0 1 130.25,0 A15,12 0 0 1 146,-12 L146,0" fill="none" stroke="#6a6a6a" stroke-width="1"/><path d="M3,-3 l1,-10 M6,-12 l1,-4" stroke="#888" stroke-width="1" fill="none"/><path d="M150,-5 l8,0 l0,5" stroke="#999" stroke-width="1" fill="none"/></g><polygon points="570.0,394.0 574.0,395.0 549.0,600.0 545.0,600.0" fill="#e0e0e0" stroke="#8c8c8c" stroke-width="1" /><polygon points="710.0,411.0 714.0,412.0 687.0,640.0 683.0,640.0" fill="#e0e0e0" stroke="#8c8c8c" stroke-width="1" /><polygon points="629.0,476.0 633.0,476.0 610.0,672.0 606.0,672.0" fill="#e8e8e8" stroke="#8c8c8c" stroke-width="0.8" /><line x1="622" y1="542" x2="608" y2="672" stroke="#999" stroke-width="0.8" /><line x1="586" y1="608" x2="573" y2="671" stroke="#999" stroke-width="0.9" /><path d="M690,413 a22,22 0 0 0 17,24" fill="none" stroke="#777" stroke-width="0.9"/><polygon points="569.0,388.0 577.0,389.0 576.0,396.0 568.0,395.0" fill="#111" stroke="none" stroke-width="0" /><polygon points="638.0,398.0 645.0,399.0 644.0,406.0 637.0,405.0" fill="#111" stroke="none" stroke-width="0" /><polygon points="708.0,407.0 716.0,408.0 715.0,416.0 707.0,415.0" fill="#111" stroke="none" stroke-width="0" /><polygon points="564.0,423.0 570.0,424.0 568.0,439.0 562.0,438.0" fill="#111" stroke="none" stroke-width="0" /><polygon points="555.0,497.0 561.0,498.0 559.0,512.0 553.0,511.0" fill="#111" stroke="none" stroke-width="0" /><polygon points="702.0,442.0 709.0,443.0 707.0,457.0 700.0,456.0" fill="#111" stroke="none" stroke-width="0" /><polygon points="693.0,517.0 698.0,518.0 696.0,532.0 691.0,531.0" fill="#111" stroke="none" stroke-width="0" /><polygon points="540.0,590.0 546.0,590.0 545.0,604.0 539.0,604.0" fill="#111" stroke="none" stroke-width="0" /><polygon points="572.2,396.7 586.6,398.8 579.4,466.7 565.0,466.7" fill="#8B0A0A" stroke="none" stroke-width="0" /><polygon points="578.4,414.2 584.5,415.3 579.4,448.2 574.2,448.2" fill="#fff" stroke="none" stroke-width="0" /><polygon points="581.4,437.9 615.4,443.0 613.3,458.5 579.4,453.3" fill="#8E8A92" stroke="#444" stroke-width="0.8" /><text x="586" y="451" font-size="4.2" fill="#222" transform="rotate(187.5 597 449)">WORK DESK</text><circle cx="594.8" cy="463.6" r="4" fill="#999"/><polygon points="562.9,468.8 630.8,476.0 625.7,522.3 621.6,522.3 623.6,497.6 574.2,491.4 572.2,512.0 604.1,515.1 603.0,534.6 556.7,528.4" fill="#6C7690" stroke="#9a9aa8" stroke-width="0.8" /><polygon points="574.2,491.4 623.6,497.6 621.6,516.1 572.2,512.0" fill="#fff" stroke="none" stroke-width="0" /><text x="579" y="505" font-size="4.5" fill="#333" transform="rotate(7.5 600 504)">WALK IN WARDROBE</text><polygon points="610.2,468.8 629.8,471.9 629.8,474.9 609.2,471.9" fill="#3A8AA8" stroke="none" stroke-width="0" /><polygon points="627.7,501.7 634.9,502.7 632.9,524.3 625.7,522.3" fill="#3A8AA8" stroke="none" stroke-width="0" /><line x1="638" y1="432" x2="631" y2="514" stroke="#5AA0D8" stroke-width="1.2" /><polygon points="638.0,454.4 646.3,455.4 640.1,503.7 631.9,502.7" fill="#8B0A0A" stroke="none" stroke-width="0" /><polygon points="647.3,407.0 690.5,413.2 689.5,419.4 646.3,412.2" fill="#8B0A0A" stroke="none" stroke-width="0" /><polygon points="668.9,453.3 702.8,458.5 695.6,514.0 678.1,512.0 683.3,472.9 666.8,469.8" fill="#2F5C9C" stroke="#6a9ad0" stroke-width="0.6" /><polygon points="661.7,528.4 680.2,531.5 675.1,564.4 657.6,561.4" fill="#938A92" stroke="none" stroke-width="0" /><circle cx="672" cy="523.3" r="4.2" fill="#908890"/><circle cx="653.5" cy="537.7" r="4.2" fill="#908890"/><circle cx="652.4" cy="551" r="4.2" fill="#908890"/><circle cx="685.3" cy="541.8" r="4.2" fill="#908890"/><circle cx="683.3" cy="554.2" r="4.2" fill="#908890"/><circle cx="665.8" cy="568.6" r="4.2" fill="#908890"/><polygon points="552.3,544.1 606.9,551.3 601.7,592.5 547.2,586.3" fill="none" stroke="#C090C0" stroke-width="0.8" /><polygon points="555.0,532.5 563.0,533.5 561.5,546.0 553.5,545.0" fill="#8B0A0A" stroke="none" stroke-width="0" /><polygon points="548.6,586.3 556.5,587.3 554.8,599.7 547.2,598.6" fill="#8B0A0A" stroke="none" stroke-width="0" /><polygon points="572.9,599.7 593.5,601.7 593.1,604.8 572.5,602.8" fill="#4A90B0" stroke="none" stroke-width="0" /><polygon points="540.0,601.7 614.1,607.9 613.7,611.0 540.0,604.8" fill="#ddd" stroke="#999" stroke-width="0.8" /><path d="M556,605 a12,12 0 0 0 14,12" fill="none" stroke="#777" stroke-width="0.8"/><path d="M573,607 a12,12 0 0 0 14,12" fill="none" stroke="#777" stroke-width="0.8"/><path d="M590,609 a12,12 0 0 0 14,12" fill="none" stroke="#777" stroke-width="0.8"/><polygon points="577.0,608.0 580.0,608.4 574.0,671.0 571.0,670.6" fill="#eee" stroke="#999" stroke-width="0.8" /><text x="588" y="665" font-size="5" fill="#555" transform="rotate(187 594 663)">W.C</text><polygon points="579.1,654.2 589.4,655.2 589.0,658.3 578.7,657.3" fill="#888" stroke="none" stroke-width="0" /><polygon points="578.1,661.4 588.4,662.4 587.9,665.5 577.7,664.5" fill="#888" stroke="none" stroke-width="0" /><path d="M590,668 a14,14 0 0 1 18,-18" fill="none" stroke="#777" stroke-width="0.8"/><polygon points="621.3,571.9 636.7,574.0 631.6,612.0 617.2,611.0" fill="#8B0A0A" stroke="none" stroke-width="0" /><polygon points="616.1,612.0 630.5,614.1 628.5,632.6 614.1,630.5" fill="#2F5C9C" stroke="none" stroke-width="0" /><polygon points="670.7,578.1 686.1,581.2 681.4,630.5 664.5,628.5" fill="none" stroke="#8B0A0A" stroke-width="1.2" /><polygon points="664.5,628.5 681.4,630.5 676.8,663.5 659.3,661.4" fill="#8B0A0A" stroke="none" stroke-width="0" /><polygon points="665.9,632.2 674.8,633.0 673.3,647.0 664.5,646.2" fill="#f4f4f4" stroke="#888" stroke-width="0.8" /><line x1="680" y1="620" x2="676" y2="663.5" stroke="#111" stroke-width="3.2" /><line x1="688" y1="540" x2="676" y2="663" stroke="#aaa" stroke-width="1" /><polygon points="640.8,644.9 660.4,647.0 658.9,660.4 639.4,658.3" fill="#fff" stroke="#555" stroke-width="3" /><polygon points="607.9,674.8 673.7,682.0 673.3,685.1 607.5,677.9" fill="#ccc" stroke="#555" stroke-width="1" /><path d="M609,676 a14,14 0 0 0 16,12" fill="none" stroke="#777" stroke-width="0.8"/><path d="M628,680 a14,14 0 0 0 16,12" fill="none" stroke="#777" stroke-width="0.8"/><path d="M646,684 a14,14 0 0 0 16,12" fill="none" stroke="#777" stroke-width="0.8"/><line x1="665" y1="663" x2="661" y2="684" stroke="#111" stroke-width="3" /><polyline points="606.3,673.9 571.6,670.8 562.4,740.2 587.8,763.4" fill="none" stroke="#111" stroke-width="3"/><polyline points="587.8,763.4 618,748.7" fill="none" stroke="#777" stroke-width="3"/><polyline points="618,748.7 626.4,677.8" fill="none" stroke="#111" stroke-width="3"/><path d="M594,760 a10,10 0 0 0 10,12 M606,755 a10,10 0 0 0 14,8" fill="none" stroke="#888" stroke-width="0.8"/><text x="583" y="714" font-size="6" fill="#333" transform="rotate(187 592 712)">UTILITY</text><line x1="633.6" y1="548.2" x2="707" y2="733" stroke="#FF00FF" stroke-width="1.2" /><line x1="467" y1="534.7" x2="602" y2="534.7" stroke="#FF0000" stroke-width="2.6" /><line x1="650.3" y1="534.7" x2="781" y2="534.7" stroke="#FF0000" stroke-width="2.6" /><line x1="626" y1="383" x2="626" y2="522.8" stroke="#FF0000" stroke-width="2.6" /><line x1="626" y1="547.2" x2="626" y2="689" stroke="#FF0000" stroke-width="2.6" /><line x1="471" y1="383" x2="611" y2="522.4" stroke="#FF0000" stroke-width="2.6" /><line x1="781" y1="383" x2="639" y2="522.4" stroke="#FF0000" stroke-width="2.6" /><line x1="472" y1="690" x2="616" y2="547.5" stroke="#FF0000" stroke-width="2.6" /><line x1="635.8" y1="547.5" x2="778" y2="690" stroke="#FF0000" stroke-width="2.6" /></svg>
<div class="t" style="left:689.00px;top:645.46px;font-size:15.16px;color:#000;font-weight:bold;">NW</div>
<div class="t" style="left:606.00px;top:525.05px;font-size:16.71px;color:#FF0000;font-weight:normal;">2</div>
<div class="t" style="left:619.50px;top:525.66px;font-size:18.71px;color:#000;font-weight:normal;">6</div>
<svg class="a" style="left:0;top:0;overflow:visible" width="1" height="1"><path d="M636.50,530.50 Q638.46,529.30 639.52,527.80 L639.52,538.70" fill="none" stroke="#000" stroke-width="1.55" stroke-linejoin="round"/></svg>
<div class="t" style="left:710.30px;top:697.54px;font-size:11.17px;color:#8E3A8E;font-weight:bold;">Inauspicious Fire @ Heaven's</div>
<div class="t" style="left:711.30px;top:709.61px;font-size:11.09px;color:#8E3A8E;font-weight:bold;">Gate = Kitchen/Stove at NW</div>
<div class="t" style="left:711.30px;top:723.62px;font-size:11.43px;color:#FF00FF;font-weight:bold;">Affect Male Breadwinner's career</div>
<div class="t" style="left:710.30px;top:735.97px;font-size:11.25px;color:#FF00FF;font-weight:bold;">&amp; also affect everyone's overall luck</div>
<svg class="a" style="left:420px;top:683px" width="52" height="52" viewBox="0 0 52 52"><path d="M26,9.6 L24,3.5 L29,6 L33,2.2 L37,6 L41.7,3.5 L39.5,9.6 Z" fill="#F4B23A"/><path d="M27,24 C14,30 13,49.5 33,49.5 C53,49.5 51,30 39,24 Z" fill="#F5B43C"/><text x="32.8" y="46.5" font-size="23" font-weight="bold" text-anchor="middle" fill="#000">$</text><rect x="5" y="14" width="13.4" height="11" rx="1.2" fill="#D8D8DC" stroke="#5a5a66" stroke-width="1.4"/><rect x="18.4" y="13.2" width="5.6" height="12.6" rx="1" fill="#fff" stroke="#5a5a66" stroke-width="1.4"/><path d="M24,12.5 Q26,10.5 30,10.5 L41,10.5 Q43.5,10.5 43.2,13 L42.6,16 L43.2,19 L42.6,22 Q42.6,26 39,26 L28,26 Q25,26 24,24.5 Z" fill="#fff" stroke="#5a5a66" stroke-width="1.4"/></svg>
<svg class="a" style="left:861px;top:859px" width="168" height="63" viewBox="0 0 168 63"><rect width="168" height="63" fill="#2A2A9C"/><g transform="translate(19.4 24)"><rect x="-5" y="-17" width="10" height="4" fill="#E0781A" transform="rotate(0)"/><rect x="-4" y="-13.2" width="8" height="1.2" fill="#8a4a10" transform="rotate(0)"/><rect x="-5" y="-17" width="10" height="4" fill="#E0781A" transform="rotate(45)"/><rect x="-4" y="-13.2" width="8" height="1.2" fill="#8a4a10" transform="rotate(45)"/><rect x="-5" y="-17" width="10" height="4" fill="#E0781A" transform="rotate(90)"/><rect x="-4" y="-13.2" width="8" height="1.2" fill="#8a4a10" transform="rotate(90)"/><rect x="-5" y="-17" width="10" height="4" fill="#E0781A" transform="rotate(135)"/><rect x="-4" y="-13.2" width="8" height="1.2" fill="#8a4a10" transform="rotate(135)"/><rect x="-5" y="-17" width="10" height="4" fill="#E0781A" transform="rotate(180)"/><rect x="-4" y="-13.2" width="8" height="1.2" fill="#8a4a10" transform="rotate(180)"/><rect x="-5" y="-17" width="10" height="4" fill="#E0781A" transform="rotate(225)"/><rect x="-4" y="-13.2" width="8" height="1.2" fill="#8a4a10" transform="rotate(225)"/><rect x="-5" y="-17" width="10" height="4" fill="#E0781A" transform="rotate(270)"/><rect x="-4" y="-13.2" width="8" height="1.2" fill="#8a4a10" transform="rotate(270)"/><rect x="-5" y="-17" width="10" height="4" fill="#E0781A" transform="rotate(315)"/><rect x="-4" y="-13.2" width="8" height="1.2" fill="#8a4a10" transform="rotate(315)"/><circle r="11.5" fill="#F2E6BC"/><path d="M0,-11.5 A11.5,11.5 0 0 1 0,11.5 A5.75,5.75 0 0 1 0,0 A5.75,5.75 0 0 0 0,-11.5 Z" fill="#2a2420"/><circle cy="-5.75" r="1.8" fill="#2a2420"/><circle cy="5.75" r="2" fill="#D89050"/></g><g transform="translate(49.0 7)" fill="none" stroke="#F2E21A" stroke-width="2.2" stroke-linecap="round"><path d="M2,14 L3,2 L12,2 L13,13 L15,11"/><path d="M5,5 L10,11"/><path d="M10,5 L5,11"/></g><g transform="translate(67.4 7)" fill="none" stroke="#F2E21A" stroke-width="2.2" stroke-linecap="round"><path d="M8,1 L8,14 L6,12"/><path d="M2,5 L6,6 L2,11"/><path d="M14,3 L10,7 L15,13"/></g><g transform="translate(85.8 7)" fill="none" stroke="#F2E21A" stroke-width="2.2" stroke-linecap="round"><path d="M1,2 L7,2"/><path d="M4,2 L1,9"/><path d="M2,8 L6,8 L6,13 L2,13 Z"/><path d="M8,3 L15,3"/><path d="M8,8 L15,8"/><path d="M10,3 L9,14"/><path d="M13,3 L13,14"/></g><g transform="translate(104.19999999999999 7)" fill="none" stroke="#F2E21A" stroke-width="2.2" stroke-linecap="round"><path d="M8,0 L8,2"/><path d="M1,5 L1,3 L15,3 L15,5"/><path d="M5,6 L3,8"/><path d="M11,6 L13,8"/><path d="M3,10 L10,10 L10,14 L15,14"/><path d="M7,8 L3,15"/></g><g transform="translate(122.6 7)" fill="none" stroke="#F2E21A" stroke-width="2.2" stroke-linecap="round"><path d="M2,4 L14,4 L14,10 L2,10 Z"/><path d="M8,0 L8,15"/></g><g transform="translate(141.0 7)" fill="none" stroke="#F2E21A" stroke-width="2.2" stroke-linecap="round"><path d="M1,8 L2,12"/><path d="M5,6 L5,13 L13,13 L13,10"/><path d="M8,3 L9,6"/><path d="M13,6 L15,9"/></g><text x="0" y="0" font-weight="bold" font-size="35" fill="#fff" stroke="#fff" stroke-width="0.6" transform="translate(42.5 43.6) scale(0.53 1)">ge<tspan fill="#2A2A9C" stroke="none">o</tspan>mancy.net</text><g transform="translate(70.3 34.3) scale(0.64 1)"><circle r="9" fill="#fff"/><path d="M0,-9 A9,9 0 0 1 0,9 A4.5,4.5 0 0 1 0,0 A4.5,4.5 0 0 0 0,-9 Z" fill="#111"/><circle cy="-4.5" r="1.4" fill="#111"/><circle cy="4.5" r="1.4" fill="#fff"/></g><text x="2.4" y="57.2" font-weight="bold" font-size="8.75" fill="#F2E21A" transform="translate(2.4 0) scale(1 1) translate(-2.4 0)">Center for Applied Feng Shui Research</text></svg></body></html>
